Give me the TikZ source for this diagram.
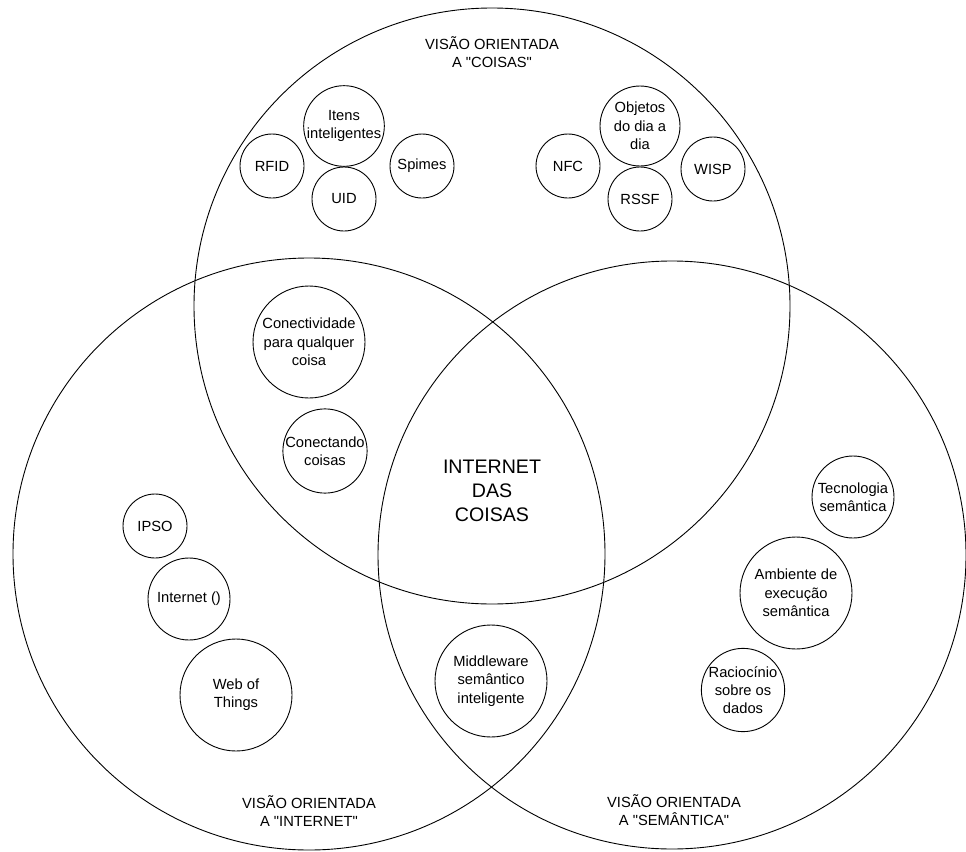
\documentclass[tikz,border=0pt]{standalone}
\usepackage{fontspec}
\setmainfont{Liberation Sans}
\newfontfamily\lsans{Liberation Sans}
\begin{document}
\begin{tikzpicture}[x=1pt,y=-1pt,
  big/.style={circle,draw,line width=0.9pt,minimum size=#1,inner sep=0pt},
  item/.style={circle,draw,line width=0.9pt,minimum size=#1,inner sep=0pt,align=center,font=\lsans\fontsize{14.7}{18.3}\selectfont},
  lbl/.style={align=center,inner sep=0pt,font=\lsans\fontsize{14.7}{18.3}\selectfont},
  title/.style={align=center,inner sep=0pt,font=\lsans\fontsize{19.6}{24}\selectfont}]
\useasboundingbox (0,0) rectangle (966,851);
% big circles
\node[big=596pt] (coisas) at (492,306) {};
\node[big=592pt] (internet) at (309,554) {};
\node[big=588pt] (semantica) at (672,555) {};
% labels
\node[lbl] (lcoisas) at (492,52) {VISÃO ORIENTADA\\A "COISAS"};
\node[lbl] (linternet) at (309,811) {VISÃO ORIENTADA\\A "INTERNET"};
\node[lbl] (lsemantica) at (674,810) {VISÃO ORIENTADA\\A "SEMÂNTICA"};
\node[title] (iot) at (492,491) {INTERNET\\DAS\\COISAS};
% things
\node[item=64pt] (rfid) at (272,166) {RFID};
\node[item=80pt] (itens) at (344,126) {Itens\\inteligentes};
\node[item=64pt] (uid) at (344,199) {UID};
\node[item=64pt] (spimes) at (422,166) {Spimes};
\node[item=64pt] (nfc) at (568,166) {NFC};
\node[item=80pt] (objetos) at (640,126) {Objetos\\do dia a\\dia};
\node[item=64pt] (rssf) at (640,199) {RSSF};
\node[item=64pt] (wisp) at (713,169) {WISP};
% intersections
\node[item=112pt] (conect) at (309,342) {Conectividade\\para qualquer\\coisa};
\node[item=82pt] (conectando) at (325,451) {Conectando\\coisas};
\node[item=112pt] (middleware) at (491,681) {Middleware\\semântico\\inteligente};
% internet
\node[item=64pt] (ipso) at (155,526) {IPSO};
\node[item=82pt] (inet) at (189,599) {Internet ()};
\node[item=112pt] (wot) at (236,695) {Web of\\Things};
% semantic
\node[item=82pt] (tec) at (853,497) {Tecnologia\\semântica};
\node[item=112pt] (amb) at (796,593) {Ambiente de\\execução\\semântica};
\node[item=82pt] (rac) at (743,690) {Raciocínio\\sobre os\\dados};
\end{tikzpicture}
\end{document}
